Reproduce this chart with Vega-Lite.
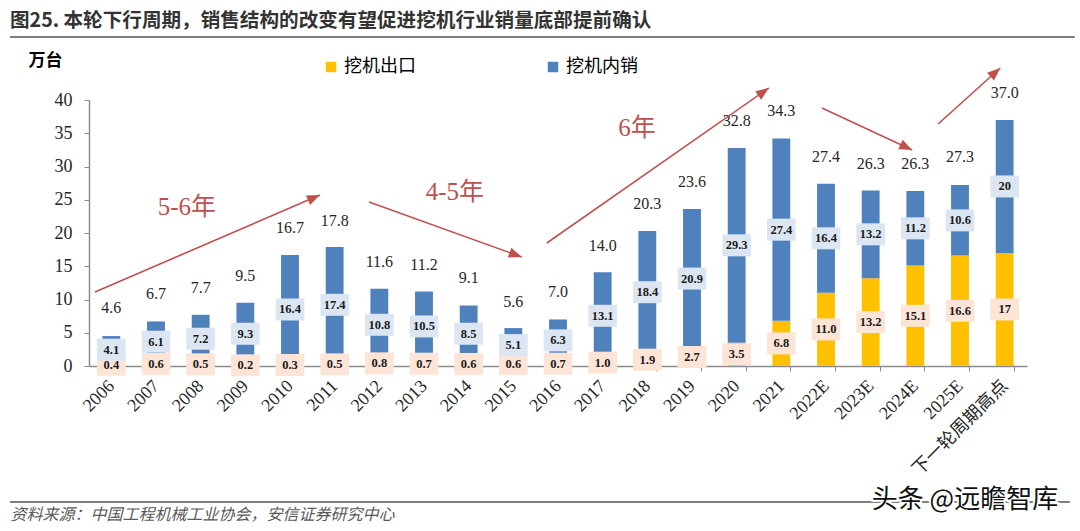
{
  "$schema": "https://vega.github.io/schema/vega-lite/v6.json",
  "width": 938,
  "height": 266,
  "autosize": {"type": "none"},
  "padding": {"left": 89, "top": 100, "right": 53, "bottom": 165},
  "background": "#ffffff",
  "title": {
    "text": "图25. 本轮下行周期，销售结构的改变有望促进挖机行业销量底部提前确认",
    "anchor": "start",
    "frame": "group",
    "dx": -79,
    "offset": -14,
    "baseline": "bottom",
    "font": "Noto Sans CJK SC",
    "fontSize": 19.6,
    "fontWeight": "bold",
    "color": "#333333"
  },
  "config": {
    "view": {"stroke": null},
    "axis": {"grid": false},
    "axisY": {
      "titleAngle": 0,
      "titleX": -44,
      "titleY": -40,
      "titleAlign": "center",
      "titleBaseline": "middle",
      "titleFont": "Noto Sans CJK SC",
      "titleFontSize": 17,
      "titleFontWeight": "bold",
      "titleColor": "#000000",
      "tickCount": 8,
      "labelFont": "Liberation Serif",
      "labelFontSize": 18,
      "labelColor": "#262626",
      "labelPadding": 12,
      "tickSize": 5,
      "tickColor": "#8c8c8c",
      "domainColor": "#8c8c8c",
      "domainWidth": 1.5
    }
  },
  "datasets": {
    "sales": [
      {"year": "2006", "type": "挖机出口", "value": 0.4, "label": "0.4"},
      {"year": "2006", "type": "挖机内销", "value": 4.1, "label": "4.1"},
      {"year": "2007", "type": "挖机出口", "value": 0.6, "label": "0.6"},
      {"year": "2007", "type": "挖机内销", "value": 6.1, "label": "6.1"},
      {"year": "2008", "type": "挖机出口", "value": 0.5, "label": "0.5"},
      {"year": "2008", "type": "挖机内销", "value": 7.2, "label": "7.2"},
      {"year": "2009", "type": "挖机出口", "value": 0.2, "label": "0.2"},
      {"year": "2009", "type": "挖机内销", "value": 9.3, "label": "9.3"},
      {"year": "2010", "type": "挖机出口", "value": 0.3, "label": "0.3"},
      {"year": "2010", "type": "挖机内销", "value": 16.4, "label": "16.4"},
      {"year": "2011", "type": "挖机出口", "value": 0.5, "label": "0.5"},
      {"year": "2011", "type": "挖机内销", "value": 17.4, "label": "17.4"},
      {"year": "2012", "type": "挖机出口", "value": 0.8, "label": "0.8"},
      {"year": "2012", "type": "挖机内销", "value": 10.8, "label": "10.8"},
      {"year": "2013", "type": "挖机出口", "value": 0.7, "label": "0.7"},
      {"year": "2013", "type": "挖机内销", "value": 10.5, "label": "10.5"},
      {"year": "2014", "type": "挖机出口", "value": 0.6, "label": "0.6"},
      {"year": "2014", "type": "挖机内销", "value": 8.5, "label": "8.5"},
      {"year": "2015", "type": "挖机出口", "value": 0.6, "label": "0.6"},
      {"year": "2015", "type": "挖机内销", "value": 5.1, "label": "5.1"},
      {"year": "2016", "type": "挖机出口", "value": 0.7, "label": "0.7"},
      {"year": "2016", "type": "挖机内销", "value": 6.3, "label": "6.3"},
      {"year": "2017", "type": "挖机出口", "value": 1.0, "label": "1.0"},
      {"year": "2017", "type": "挖机内销", "value": 13.1, "label": "13.1"},
      {"year": "2018", "type": "挖机出口", "value": 1.9, "label": "1.9"},
      {"year": "2018", "type": "挖机内销", "value": 18.4, "label": "18.4"},
      {"year": "2019", "type": "挖机出口", "value": 2.7, "label": "2.7"},
      {"year": "2019", "type": "挖机内销", "value": 20.9, "label": "20.9"},
      {"year": "2020", "type": "挖机出口", "value": 3.5, "label": "3.5"},
      {"year": "2020", "type": "挖机内销", "value": 29.3, "label": "29.3"},
      {"year": "2021", "type": "挖机出口", "value": 6.8, "label": "6.8"},
      {"year": "2021", "type": "挖机内销", "value": 27.4, "label": "27.4"},
      {"year": "2022E", "type": "挖机出口", "value": 11.0, "label": "11.0"},
      {"year": "2022E", "type": "挖机内销", "value": 16.4, "label": "16.4"},
      {"year": "2023E", "type": "挖机出口", "value": 13.2, "label": "13.2"},
      {"year": "2023E", "type": "挖机内销", "value": 13.2, "label": "13.2"},
      {"year": "2024E", "type": "挖机出口", "value": 15.1, "label": "15.1"},
      {"year": "2024E", "type": "挖机内销", "value": 11.2, "label": "11.2"},
      {"year": "2025E", "type": "挖机出口", "value": 16.6, "label": "16.6"},
      {"year": "2025E", "type": "挖机内销", "value": 10.6, "label": "10.6"},
      {"year": "下一轮周期高点", "type": "挖机出口", "value": 17, "label": "17"},
      {"year": "下一轮周期高点", "type": "挖机内销", "value": 20, "label": "20"}
    ],
    "totals": [
      {"year": "2006", "total": 4.6},
      {"year": "2007", "total": 6.7},
      {"year": "2008", "total": 7.7},
      {"year": "2009", "total": 9.5},
      {"year": "2010", "total": 16.7},
      {"year": "2011", "total": 17.8},
      {"year": "2012", "total": 11.6},
      {"year": "2013", "total": 11.2},
      {"year": "2014", "total": 9.1},
      {"year": "2015", "total": 5.6},
      {"year": "2016", "total": 7.0},
      {"year": "2017", "total": 14.0},
      {"year": "2018", "total": 20.3},
      {"year": "2019", "total": 23.6},
      {"year": "2020", "total": 32.8},
      {"year": "2021", "total": 34.3},
      {"year": "2022E", "total": 27.4},
      {"year": "2023E", "total": 26.3},
      {"year": "2024E", "total": 26.3},
      {"year": "2025E", "total": 27.3},
      {"year": "下一轮周期高点", "total": 37.0}
    ],
    "arrows": [
      {"arrow": 1, "end": "start", "x": 0.134, "y": 11.13},
      {"arrow": 1, "end": "tip", "x": 5.17, "y": 25.71},
      {"arrow": 2, "end": "start", "x": 6.27, "y": 24.66},
      {"arrow": 2, "end": "tip", "x": 9.69, "y": 16.39},
      {"arrow": 3, "end": "start", "x": 10.25, "y": 18.5},
      {"arrow": 3, "end": "tip", "x": 15.22, "y": 41.8},
      {"arrow": 4, "end": "start", "x": 16.41, "y": 38.8},
      {"arrow": 4, "end": "tip", "x": 18.43, "y": 32.48},
      {"arrow": 5, "end": "start", "x": 19.01, "y": 36.39},
      {"arrow": 5, "end": "tip", "x": 20.4, "y": 44.81}
    ],
    "notes": [
      {"x": 2.19, "y": 23.91, "text": "5-6年"},
      {"x": 8.19, "y": 26.17, "text": "4-5年"},
      {"x": 12.27, "y": 35.79, "text": "6年"}
    ],
    "rules": [
      {"x": -1.769, "x2": 22.07, "y": 49.47},
      {"x": -1.769, "x2": 21.96, "y": -20.45}
    ],
    "watermark": [
      {"x": 19.61, "y": -20.15, "text": "头条 @远瞻智库"}
    ]
  },
  "layer": [
    {
      "encoding": {
        "x": {
          "field": "year",
          "type": "nominal",
          "scale": {
            "domain": ["2006", "2007", "2008", "2009", "2010", "2011", "2012", "2013", "2014", "2015", "2016", "2017", "2018", "2019", "2020", "2021", "2022E", "2023E", "2024E", "2025E", "下一轮周期高点"],
            "paddingInner": 0.6,
            "paddingOuter": 0.3
          },
          "axis": {
            "title": "资料来源：中国工程机械工业协会，安信证券研究中心",
            "titleX": -79,
            "titleY": 148,
            "titleAlign": "left",
            "titleBaseline": "middle",
            "titleFont": "Noto Sans CJK SC",
            "titleFontSize": 16,
            "titleFontWeight": "normal",
            "titleFontStyle": "italic",
            "titleColor": "#595959",
            "labelAngle": -45,
            "labelAlign": "right",
            "labelBaseline": "middle",
            "labelFont": "Liberation Serif, Noto Sans CJK SC",
            "labelFontSize": 18,
            "labelColor": "#262626",
            "labelPadding": 12,
            "labelOverlap": false,
            "labelLimit": 0,
            "tickBand": "extent",
            "tickSize": 5,
            "tickColor": "#8c8c8c",
            "domainColor": "#8c8c8c",
            "domainWidth": 1.5
          }
        }
      },
      "layer": [
        {
          "data": {"name": "sales"},
          "mark": {"type": "bar"},
          "encoding": {
            "y": {
              "field": "value",
              "type": "quantitative",
              "stack": "zero",
              "scale": {"domain": [0, 40]},
              "axis": {"title": "万台"}
            },
            "color": {
              "field": "type",
              "type": "nominal",
              "scale": {"domain": ["挖机出口", "挖机内销"], "range": ["#FFC000", "#4F81BD"]},
              "legend": {
                "orient": "none",
                "legendX": 233,
                "legendY": -42,
                "direction": "horizontal",
                "title": null,
                "symbolType": "square",
                "symbolSize": 110,
                "symbolStrokeWidth": 0,
                "labelFont": "Noto Sans CJK SC",
                "labelFontSize": 18,
                "labelColor": "#000000",
                "labelOffset": 4,
                "columnPadding": 128,
                "padding": 0
              }
            },
            "order": {"field": "type", "sort": "descending"}
          }
        },
        {
          "data": {"name": "sales"},
          "transform": [
            {"stack": "value", "groupby": ["year"], "sort": [{"field": "type", "order": "descending"}], "as": ["v0", "v1"]},
            {"fold": ["v0", "v1"], "as": ["edge", "pos"]},
            {"aggregate": [{"op": "mean", "field": "pos", "as": "mid"}], "groupby": ["year", "type", "label"]}
          ],
          "layer": [
            {
              "mark": {"type": "point", "shape": "M-1.3,-1H1.3V1H-1.3Z", "filled": true, "opacity": 1, "size": 484, "strokeWidth": 0},
              "encoding": {
                "y": {"field": "mid", "type": "quantitative", "scale": {"domain": [0, 40]}, "axis": {"title": "万台"}},
                "fill": {"condition": {"test": "datum.type === '挖机内销'", "value": "#DCE6F2"}, "value": "#FCE4D6"}
              }
            },
            {
              "mark": {"type": "text", "font": "Liberation Serif", "fontSize": 12.5, "fontWeight": "bold", "color": "#1a1a1a", "baseline": "middle"},
              "encoding": {
                "y": {"field": "mid", "type": "quantitative", "scale": {"domain": [0, 40]}, "axis": {"title": "万台"}},
                "text": {"field": "label"}
              }
            }
          ]
        },
        {
          "data": {"name": "totals"},
          "mark": {"type": "text", "font": "Liberation Serif", "fontSize": 16, "color": "#262626", "baseline": "middle", "dy": -27},
          "encoding": {
            "y": {"field": "total", "type": "quantitative", "scale": {"domain": [0, 40]}, "axis": {"title": "万台"}},
            "text": {"field": "total", "format": ".1f"}
          }
        }
      ]
    },
    {
      "layer": [
        {
          "data": {"name": "rules"},
          "mark": {"type": "rule", "color": "#7f7f7f", "strokeWidth": 1.8},
          "encoding": {
            "x": {"field": "x", "type": "quantitative", "scale": {"domain": [0, 21], "nice": false, "zero": false}, "axis": null},
            "x2": {"field": "x2"},
            "y": {"field": "y", "type": "quantitative", "scale": {"domain": [0, 40]}, "axis": {"title": "万台"}}
          }
        },
        {
          "data": {"name": "arrows"},
          "mark": {"type": "line", "color": "#C0504D", "strokeWidth": 1.6},
          "encoding": {
            "x": {"field": "x", "type": "quantitative", "scale": {"domain": [0, 21], "nice": false, "zero": false}, "axis": null},
            "y": {"field": "y", "type": "quantitative", "scale": {"domain": [0, 40]}, "axis": {"title": "万台"}},
            "detail": {"field": "arrow", "type": "nominal"}
          }
        },
        {
          "data": {"name": "arrows"},
          "transform": [{"filter": "datum.end === 'tip'"}],
          "mark": {"type": "point", "shape": "M0,0L-2,-0.8L-2,0.8Z", "filled": true, "opacity": 1, "size": 169, "color": "#C0504D", "strokeWidth": 0},
          "encoding": {
            "x": {"field": "x", "type": "quantitative", "scale": {"domain": [0, 21], "nice": false, "zero": false}, "axis": null},
            "y": {"field": "y", "type": "quantitative", "scale": {"domain": [0, 40]}, "axis": {"title": "万台"}},
            "angle": {"field": "arrow", "type": "quantitative", "scale": {"type": "threshold", "domain": [1.5, 2.5, 3.5, 4.5], "range": [-23.3, 19.8, -34.9, 25.0, -42.1]}, "legend": null}
          }
        },
        {
          "data": {"name": "notes"},
          "mark": {"type": "text", "font": "Liberation Serif, Noto Sans CJK SC", "fontSize": 25, "color": "#C0504D", "baseline": "middle"},
          "encoding": {
            "x": {"field": "x", "type": "quantitative", "scale": {"domain": [0, 21], "nice": false, "zero": false}, "axis": null},
            "y": {"field": "y", "type": "quantitative", "scale": {"domain": [0, 40]}, "axis": {"title": "万台"}},
            "text": {"field": "text"}
          }
        },
        {
          "data": {"name": "watermark"},
          "mark": {"type": "text", "font": "Noto Sans CJK SC", "fontSize": 26, "color": "#ffffff", "stroke": "#ffffff", "strokeWidth": 4, "baseline": "middle"},
          "encoding": {
            "x": {"field": "x", "type": "quantitative", "scale": {"domain": [0, 21], "nice": false, "zero": false}, "axis": null},
            "y": {"field": "y", "type": "quantitative", "scale": {"domain": [0, 40]}, "axis": {"title": "万台"}},
            "text": {"field": "text"}
          }
        },
        {
          "data": {"name": "watermark"},
          "mark": {"type": "text", "font": "Noto Sans CJK SC", "fontSize": 26, "color": "#111111", "baseline": "middle"},
          "encoding": {
            "x": {"field": "x", "type": "quantitative", "scale": {"domain": [0, 21], "nice": false, "zero": false}, "axis": null},
            "y": {"field": "y", "type": "quantitative", "scale": {"domain": [0, 40]}, "axis": {"title": "万台"}},
            "text": {"field": "text"}
          }
        }
      ]
    }
  ],
  "resolve": {"scale": {"x": "independent"}}
}
